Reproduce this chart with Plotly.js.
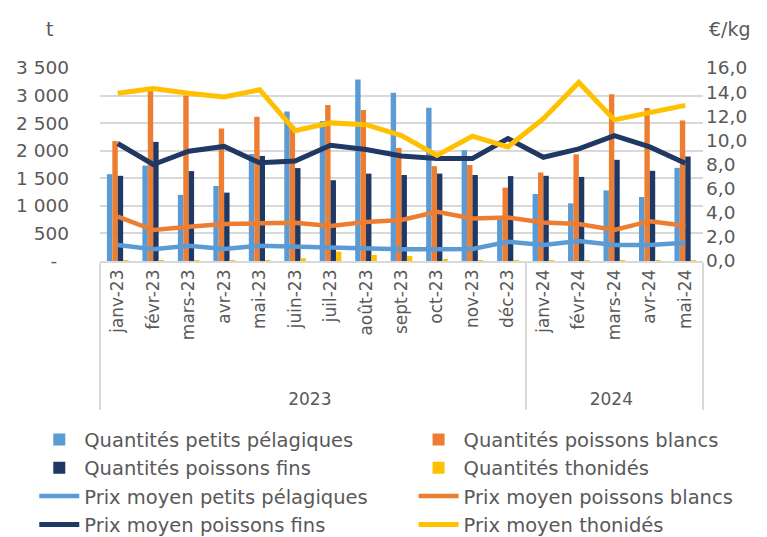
<!DOCTYPE html>
<html>
<head>
<meta charset="utf-8">
<script src="https://cdn.plot.ly/plotly-3.0.1.min.js"></script>
<style>html,body{margin:0;padding:0;background:#fff;}#chart{width:767px;height:537px;}</style>
</head>
<body>
<div id="chart"></div>
<script>
var months = ['janv-23','févr-23','mars-23','avr-23','mai-23','juin-23','juil-23','août-23','sept-23','oct-23','nov-23','déc-23','janv-24','févr-24','mars-24','avr-24','mai-24'];
var years = ['2023','2023','2023','2023','2023','2023','2023','2023','2023','2023','2023','2023','2024','2024','2024','2024','2024'];

var qtyPetitsPelagiques = [1575, 1730, 1200, 1360, 1940, 2710, 2540, 3290, 3050, 2780, 2010, 750, 1215, 1045, 1280, 1160, 1690];
var qtyPoissonsBlancs   = [2175, 3100, 3000, 2405, 2615, 2450, 2830, 2740, 2050, 1720, 1740, 1330, 1605, 1935, 3025, 2775, 2550];
var qtyPoissonsFins     = [1545, 2160, 1630, 1240, 1905, 1685, 1465, 1585, 1560, 1585, 1560, 1540, 1545, 1525, 1835, 1635, 1895];
var qtyThonides         = [3, 3, 3, 8, 8, 50, 170, 110, 90, 35, 3, 3, 3, 3, 8, 5, 3];

var prixPetitsPelagiques = [1.32, 0.97, 1.27, 0.99, 1.27, 1.19, 1.10, 1.05, 0.97, 0.97, 1.00, 1.60, 1.32, 1.65, 1.32, 1.32, 1.52];
var prixPoissonsBlancs   = [3.67, 2.57, 2.84, 3.06, 3.12, 3.17, 2.90, 3.23, 3.40, 4.08, 3.53, 3.60, 3.20, 3.06, 2.57, 3.30, 2.92];
var prixPoissonsFins     = [9.74, 8.00, 9.10, 9.50, 8.14, 8.28, 9.60, 9.25, 8.70, 8.50, 8.50, 10.15, 8.60, 9.30, 10.40, 9.46, 8.10];
var prixThonides         = [13.9, 14.3, 13.9, 13.6, 14.2, 10.8, 11.45, 11.3, 10.4, 8.75, 10.35, 9.46, 11.8, 14.8, 11.7, 12.3, 12.9];

var leftTickVals = [0, 500, 1000, 1500, 2000, 2500, 3000, 3500];
var leftTickText = ['-\u00a0\u00a0', '500', '1 000', '1 500', '2 000', '2 500', '3 000', '3 500'];
var rightTickVals = [0, 2, 4, 6, 8, 10, 12, 14, 16];

var cBlue = '#5B9BD5', cOrange = '#ED7D31', cNavy = '#203864', cYellow = '#FFC000';
// leading non-breaking spaces leave room between month labels and year labels (as in the reference)
var pad = '\u00a0\u00a0\u00a0\u00a0\u00a0\u00a0';
var monthLabels = months.map(function(m){ return pad + m; });
var x = [years, monthLabels];

var traces = [
  {type:'bar', name:'Quantités petits pélagiques', x:x, y:qtyPetitsPelagiques, marker:{color:cBlue}, legend:'legend'},
  {type:'bar', name:'Quantités poissons blancs', x:x, y:qtyPoissonsBlancs, marker:{color:cOrange}, legend:'legend2'},
  {type:'bar', name:'Quantités poissons fins', x:x, y:qtyPoissonsFins, marker:{color:cNavy}, legend:'legend'},
  {type:'bar', name:'Quantités thonidés', x:x, y:qtyThonides, marker:{color:cYellow}, legend:'legend2'},
  {type:'scatter', mode:'lines', name:'Prix moyen petits pélagiques', x:x, y:prixPetitsPelagiques, yaxis:'y2', line:{color:cBlue, width:4.5}, legend:'legend'},
  {type:'scatter', mode:'lines', name:'Prix moyen poissons blancs', x:x, y:prixPoissonsBlancs, yaxis:'y2', line:{color:cOrange, width:4.5}, legend:'legend2'},
  {type:'scatter', mode:'lines', name:'Prix moyen poissons fins', x:x, y:prixPoissonsFins, yaxis:'y2', line:{color:cNavy, width:5}, legend:'legend'},
  {type:'scatter', mode:'lines', name:'Prix moyen thonidés', x:x, y:prixThonides, yaxis:'y2', line:{color:cYellow, width:5}, legend:'legend2'}
];

var fontFam = '"DejaVu Sans", "Open Sans", sans-serif';
var txtColor = '#595959';
var legendCommon = {orientation:'v', xanchor:'left', yanchor:'top', y:-0.825, font:{size:19.5, color:txtColor},
                    traceorder:'normal', itemwidth:40, tracegroupgap:0, bgcolor:'rgba(0,0,0,0)'};
var legend1 = Object.assign({}, legendCommon, {x:-0.109});
var legend2 = Object.assign({}, legendCommon, {x:0.52});

var layout = {
  width:767, height:537,
  margin:{l:100, r:64, t:68, b:276, autoexpand:false},
  paper_bgcolor:'#fff', plot_bgcolor:'#fff',
  font:{family:fontFam, color:txtColor, size:17},
  separators:', ',
  barmode:'group', bargap:0.39, bargroupgap:0,
  showlegend:true,
  legend:legend1,
  legend2:legend2,
  xaxis:{type:'multicategory', tickangle:-90, showgrid:false, showline:true, linecolor:'#d9d9d9', linewidth:1.5,
         showdividers:true, dividercolor:'#d9d9d9', dividerwidth:1.5, ticks:'', tickfont:{size:17, color:txtColor}},
  yaxis:{range:[0,3500], tickvals:leftTickVals, ticktext:leftTickText, showgrid:true, gridcolor:'#d9d9d9', gridwidth:1.5,
         zeroline:false, showline:false, ticks:'', ticklabelstandoff:30, tickfont:{size:18.5, color:txtColor}},
  yaxis2:{range:[0,16], overlaying:'y', side:'right', tickvals:rightTickVals, tickformat:'.1f', showgrid:false,
          zeroline:false, showline:false, ticks:'', ticklabelstandoff:2, tickfont:{size:18.5, color:txtColor}},
  annotations:[
    {text:'t', xref:'paper', yref:'paper', x:-0.083, y:1.2, xanchor:'center', yanchor:'middle', showarrow:false, font:{size:19, color:txtColor}},
    {text:'€/kg', xref:'paper', yref:'paper', x:1.045, y:1.2, xanchor:'center', yanchor:'middle', showarrow:false, font:{size:19, color:txtColor}}
  ]
};

Plotly.newPlot('chart', traces, layout, {displayModeBar:false, responsive:false});
</script>
</body>
</html>
